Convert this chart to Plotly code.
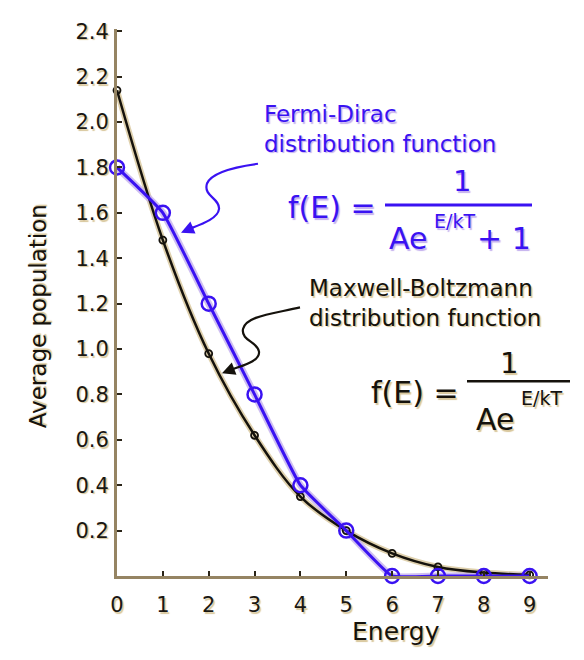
import plotly.graph_objects as go

# ---------------- data ----------------
energy = [0, 1, 2, 3, 4, 5, 6, 7, 8, 9]
maxwell_boltzmann = [2.14, 1.48, 0.98, 0.62, 0.35, 0.20, 0.10, 0.04, 0.015, 0.005]
fermi_dirac = [1.80, 1.60, 1.20, 0.80, 0.40, 0.20, 0.0, 0.0, 0.0, 0.0]
x_tick_vals = [0, 1, 2, 3, 4, 5, 6, 7, 8, 9]
x_tick_text = ["0", "1", "2", "3", "4", "5", "6", "7", "8", "9"]
y_tick_vals = [0.2, 0.4, 0.6, 0.8, 1.0, 1.2, 1.4, 1.6, 1.8, 2.0, 2.2, 2.4]
y_tick_text = ["0.2", "0.4", "0.6", "0.8", "1.0", "1.2", "1.4", "1.6", "1.8", "2.0", "2.2", "2.4"]

# ---------------- style ----------------
OFF = 8                      # browser body margin
W, H = 584 - OFF, 660 - OFF
ML, MR, MT, MB = 117 - OFF, 36, 20 - OFF, 84
PW, PH = W - ML - MR, H - MT - MB
BLUE = "#3a12f2"
BLUE_HALO = "#c4b0ee"
BLACK = "#15120c"
TAN = "#d8c69a"
AXIS = "#958463"
FONT = "DejaVu Sans"
TAN_SHADOW = f"1.5px 1.5px 1px {TAN}"
BLUE_SHADOW = f"1.5px 1.5px 1px {BLUE_HALO}"


# helpers take positions measured on the 584x660 reference page
def px(x):
    return (x - OFF - ML) / PW


def py(y):
    return (H + OFF - MB - y) / PH


def pt(x, y):
    return f"{px(x):.4f},{py(y):.4f}"


fig = go.Figure()

# soft halos under the lines
fig.add_trace(go.Scatter(
    x=energy, y=maxwell_boltzmann, mode="lines",
    line=dict(color=TAN, width=6, shape="spline", smoothing=1.0),
    opacity=0.8, cliponaxis=False, showlegend=False, hoverinfo="skip"))
fig.add_trace(go.Scatter(
    x=energy, y=fermi_dirac, mode="lines",
    line=dict(color=BLUE_HALO, width=7, shape="spline", smoothing=0.35),
    opacity=0.8, cliponaxis=False, showlegend=False, hoverinfo="skip"))

fig.add_trace(go.Scatter(
    x=energy, y=maxwell_boltzmann, mode="lines+markers",
    line=dict(color=BLACK, width=2.5, shape="spline", smoothing=1.0),
    marker=dict(symbol="circle-open", size=7, color=BLACK, line=dict(width=1.8)),
    cliponaxis=False, showlegend=False, name="Maxwell-Boltzmann"))

fig.add_trace(go.Scatter(
    x=energy, y=fermi_dirac, mode="lines+markers",
    line=dict(color=BLUE, width=3, shape="spline", smoothing=0.35),
    marker=dict(symbol="circle-open", size=14, color=BLUE, line=dict(width=2.5)),
    cliponaxis=False, showlegend=False, name="Fermi-Dirac"))

annotations = []


def text(t, x, y, size, color, shadow, xanchor="center", align="center", angle=0):
    annotations.append(dict(
        text=t, x=px(x), y=py(y), xref="paper", yref="paper",
        xanchor=xanchor, yanchor="middle", align=align, showarrow=False,
        textangle=angle, font=dict(family=FONT, size=size, color=color, shadow=shadow)))


# axis titles
text("Average population", 38, 312, 23, BLACK, TAN_SHADOW, angle=-90)
text("Energy", 396, 632, 25, BLACK, TAN_SHADOW)

# Fermi-Dirac label + formula
text("Fermi-Dirac<br>distribution function", 262, 122, 23, BLUE, BLUE_SHADOW, xanchor="left", align="left")
text("f(E) =", 378, 201, 30, BLUE, BLUE_SHADOW, xanchor="right")
text("1", 462, 174, 29, BLUE, BLUE_SHADOW)
text("Ae", 387, 233, 30, BLUE, BLUE_SHADOW, xanchor="left")
text("E/kT", 432, 215, 19, BLUE, BLUE_SHADOW, xanchor="left")
text("+ 1", 533, 233, 30, BLUE, BLUE_SHADOW, xanchor="right")

# Maxwell-Boltzmann label + formula
text("Maxwell-Boltzmann<br>distribution function", 307, 299, 23, BLACK, TAN_SHADOW, xanchor="left", align="left")
text("f(E) =", 461, 389, 30, BLACK, TAN_SHADOW, xanchor="right")
text("1", 509, 360, 29, BLACK, TAN_SHADOW)
text("Ae", 474, 417, 30, BLACK, TAN_SHADOW, xanchor="left")
text("E/kT", 519, 395, 19, BLACK, TAN_SHADOW, xanchor="left")

# arrow heads
annotations.append(dict(text="", x=px(181), y=py(227), xref="paper", yref="paper",
                        ax=14, ay=-6, showarrow=True, arrowhead=2, arrowsize=1.3,
                        arrowwidth=2, arrowcolor=BLUE, standoff=0))
annotations.append(dict(text="", x=px(222), y=py(370), xref="paper", yref="paper",
                        ax=13, ay=-5, showarrow=True, arrowhead=2, arrowsize=1.3,
                        arrowwidth=2, arrowcolor=BLACK, standoff=0))

shapes = [
    # fraction bars
    dict(type="line", xref="paper", yref="paper", x0=px(385), x1=px(532), y0=py(199), y1=py(199),
         line=dict(color=BLUE, width=3)),
    dict(type="line", xref="paper", yref="paper", x0=px(467), x1=px(570), y0=py(378), y1=py(378),
         line=dict(color=BLACK, width=2.5)),
    # wavy leader lines
    dict(type="path", xref="paper", yref="paper",
         path=(f"M {pt(258,157)} C {pt(236,160)} {pt(212,165)} {pt(207,177)} "
               f"C {pt(203,190)} {pt(220,192)} {pt(219,203)} "
               f"C {pt(218,213)} {pt(200,219)} {pt(190,223)}"),
         line=dict(color=BLUE, width=2.2)),
    dict(type="path", xref="paper", yref="paper",
         path=(f"M {pt(300,303)} C {pt(270,310)} {pt(246,312)} {pt(243,325)} "
               f"C {pt(241,337)} {pt(258,338)} {pt(259,348)} "
               f"C {pt(260,358)} {pt(242,362)} {pt(232,366)}"),
         line=dict(color=BLACK, width=2.2)),
]

tickfont = dict(family=FONT, size=21, color="#1a1712", shadow=TAN_SHADOW)

fig.update_layout(
    width=W, height=H,
    margin=dict(l=ML, r=MR, t=MT, b=MB),
    paper_bgcolor="white", plot_bgcolor="white",
    font=dict(family=FONT, color=BLACK),
    annotations=annotations, shapes=shapes,
    xaxis=dict(range=[0, 9.4], tickvals=x_tick_vals, ticktext=x_tick_text,
               showline=True, linecolor=AXIS, linewidth=3, showgrid=False, zeroline=False,
               ticks="inside", ticklen=5, tickwidth=2, tickcolor="#2a2418",
               ticklabelstandoff=8, tickfont=tickfont),
    yaxis=dict(range=[0, 2.41], tickvals=y_tick_vals, ticktext=y_tick_text,
               showline=True, linecolor=AXIS, linewidth=3, showgrid=False, zeroline=False,
               ticks="inside", ticklen=5, tickwidth=2, tickcolor="#2a2418",
               ticklabelstandoff=1, tickfont=tickfont),
)

fig.write_html("out.html")
